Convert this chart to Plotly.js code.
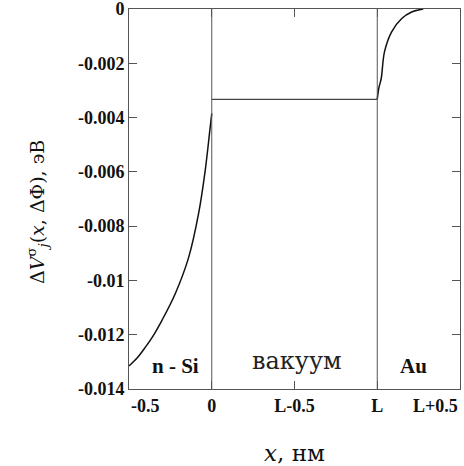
<!DOCTYPE html>
<html>
<head>
<meta charset="utf-8">
<script src="https://cdn.plot.ly/plotly-3.0.1.min.js"></script>
<style>
html,body{margin:0;padding:0;background:#fff;}
</style>
</head>
<body>
<div id="chart" style="width:464px;height:466px"></div>
<script>
// n-Si region (x from -0.5 to 0 nm)
var siX = [-0.5, -0.45, -0.4, -0.36, -0.3, -0.22, -0.14, -0.08, -0.04, -0.012, 0];
var siY = [-0.01315, -0.01285, -0.01245, -0.0121, -0.01146, -0.01048, -0.00916, -0.00755, -0.00597, -0.0045, -0.00385];
// vacuum region (0 .. L)
var vacX = [0, 1];
var vacY = [-0.00333, -0.00333];
// Au region (L .. L+0.5)
var auX = [1, 1.01, 1.024, 1.044, 1.087, 1.148, 1.208, 1.278];
var auY = [-0.00333, -0.0029, -0.00256, -0.00157, -0.00084, -0.00035, -0.00011, 0];
// boundaries
var boundaries = [0, 1];
// ticks
var xTickVals = [0, 0.5, 1];
var xTickText = ['0', 'L-0.5', 'L'];
var xEdgeVals = [-0.5, 1.5];
var xEdgeText = ['-0.5', 'L+0.5'];
var yTickVals = [0, -0.002, -0.004, -0.006, -0.008, -0.01, -0.012, -0.014];
var yTickText = ['0', '-0.002', '-0.004', '-0.006', '-0.008', '-0.01', '-0.012', '-0.014'];
// region labels
var regionText = ['n - Si', 'вакуум', 'Au'];
var regionX = [-0.22, 0.515, 1.222];
var regionY = [-0.01316, -0.01298, -0.01316];
// axis titles
var yTitle = 'Δ<i>V</i><sup>σ</sup><sub><i>j</i></sub>(<i>x</i>, ΔΦ), эВ';
var xTitle = '<i>x</i>, нм';

var SERIF = 'Liberation Serif';
var WIDE = 'DejaVu Serif';

var traces = [
  {x: siX, y: siY, mode: 'lines', line: {color: '#111', width: 1.5, shape: 'spline'}, hoverinfo: 'none'},
  {x: vacX, y: vacY, mode: 'lines', line: {color: '#444', width: 1.3}, hoverinfo: 'none'},
  {x: auX, y: auY, mode: 'lines', line: {color: '#111', width: 1.5, shape: 'spline'}, hoverinfo: 'none'}
];

var shapes = boundaries.map(function (b) {
  return {type: 'line', xref: 'x', yref: 'paper', x0: b, x1: b, y0: 0, y1: 1,
          line: {color: '#555', width: 1}};
});

var annotations = [];
for (var i = 0; i < regionText.length; i++) {
  annotations.push({
    x: regionX[i], y: regionY[i], xref: 'x', yref: 'y',
    text: i === 1 ? regionText[i] : '<b>' + regionText[i] + '</b>',
    showarrow: false, xanchor: 'center', yanchor: 'middle',
    font: i === 1 ? {family: WIDE, size: 24, color: '#222'} : {family: SERIF, size: 21, color: '#111'}
  });
}
annotations.push({x: xEdgeVals[0], y: 0, xref: 'x', yref: 'paper', text: '<b>' + xEdgeText[0] + '</b>',
  showarrow: false, xanchor: 'left', yanchor: 'top', yshift: -5, font: {family: SERIF, size: 18, color: '#111'}});
annotations.push({x: xEdgeVals[1], y: 0, xref: 'x', yref: 'paper', text: '<b>' + xEdgeText[1] + '</b>',
  showarrow: false, xanchor: 'right', yanchor: 'top', yshift: -5, font: {family: SERIF, size: 18, color: '#111'}});
annotations.push({x: 0, y: 0.5, xref: 'paper', yref: 'paper', text: yTitle, textangle: -90,
  showarrow: false, xanchor: 'center', yanchor: 'middle', xshift: -92, yshift: -13,
  font: {family: WIDE, size: 19, color: '#111'}});

var layout = {
  width: 464, height: 466,
  font: {family: SERIF, size: 18, color: '#111'},
  margin: {l: 129, r: 4, t: 9, b: 77},
  paper_bgcolor: '#fff', plot_bgcolor: '#fff',
  showlegend: false,
  xaxis: {
    range: [-0.5, 1.5], showgrid: false, zeroline: false,
    showline: true, linecolor: '#555', linewidth: 1, mirror: 'ticks',
    ticks: 'inside', ticklen: 8, tickcolor: '#555', tickwidth: 1,
    tickvals: xTickVals, ticktext: xTickText.map(function (t) { return '<b>' + t + '</b>'; }),
    tickfont: {family: SERIF, size: 18, color: '#111'},
    title: {text: xTitle, font: {family: WIDE, size: 23, color: '#111'}, standoff: 32}
  },
  yaxis: {
    range: [-0.014, 0], showgrid: false, zeroline: false,
    showline: true, linecolor: '#555', linewidth: 1, mirror: 'ticks',
    ticks: 'inside', ticklen: 8, tickcolor: '#555', tickwidth: 1,
    ticklabeloverflow: 'allow',
    tickvals: yTickVals, ticktext: yTickText.map(function (t) { return '<b>' + t + '</b>'; }),
    tickfont: {family: SERIF, size: 18, color: '#111'}
  },
  shapes: shapes,
  annotations: annotations
};

Plotly.newPlot('chart', traces, layout, {staticPlot: true, displayModeBar: false});
</script>
</body>
</html>
